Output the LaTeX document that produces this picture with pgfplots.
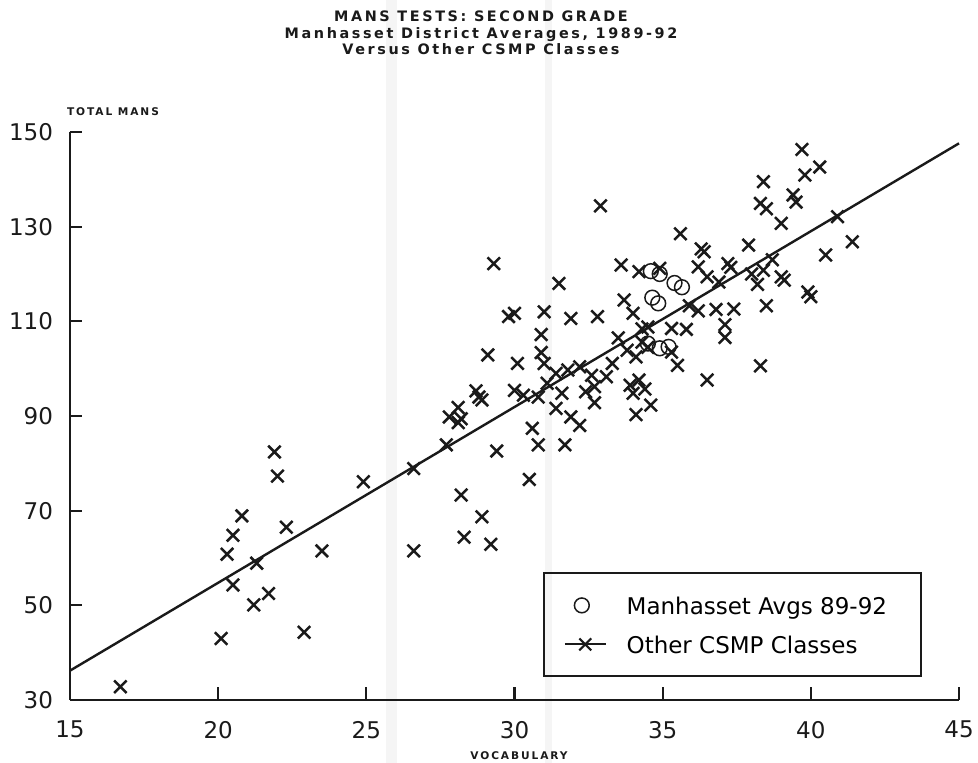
\documentclass[border=0pt]{standalone}
\usepackage{fontspec}
\setmainfont{DejaVu Sans}
\newfontfamily\titlefont[LetterSpace=18]{DejaVu Sans}
\usepackage{pgfplots}
\pgfplotsset{compat=1.18}
\usepackage{pgfplotstable}
\definecolor{ink}{HTML}{1A1A1A}
\definecolor{scanband}{HTML}{F5F5F5}
\pgfplotsset{widelegimg/.style={legend image code/.code={\draw[mark repeat=2,mark phase=2,##1] plot coordinates {(0pt,0pt) (10.25pt,0pt) (20.5pt,0pt)};}}}
\pgfplotstableread{
x y
16.7 32.8
20.1 43.0
20.3 60.8
20.5 64.8
20.8 68.9
20.5 54.3
21.2 50.1
21.3 58.9
21.7 52.5
21.9 82.4
22.0 77.3
22.3 66.5
22.9 44.3
23.5 61.5
24.9 76.1
26.6 78.9
26.6 61.5
27.7 83.9
27.8 89.8
28.1 88.6
28.2 89.4
28.1 91.8
28.2 73.3
28.3 64.4
28.9 68.7
29.2 62.9
29.4 82.6
28.7 95.3
28.8 94.0
28.9 93.4
29.1 102.9
29.3 122.2
29.8 111.0
30.0 111.7
30.0 95.4
30.3 94.4
30.1 101.1
30.6 87.4
30.5 76.6
30.8 83.9
30.8 94.0
30.9 103.4
30.9 107.2
31.0 101.1
31.0 112.0
31.1 96.9
31.4 91.6
31.5 118.0
31.4 99.0
31.6 94.8
31.7 83.9
31.8 99.7
31.9 110.6
31.9 89.8
32.2 88.0
32.2 100.4
32.4 95.1
32.6 98.6
32.7 96.2
32.7 92.8
32.8 111.0
32.9 134.4
33.1 98.3
33.3 101.1
33.5 106.5
33.8 103.9
33.6 121.9
33.7 114.5
33.9 96.5
34.0 111.7
34.0 94.8
34.1 90.3
34.2 120.5
34.2 97.6
34.3 108.4
34.1 102.5
34.3 105.6
34.5 104.5
34.5 108.8
34.4 95.7
34.6 92.3
34.9 121.2
35.3 108.5
35.3 103.5
35.5 100.7
35.6 128.5
35.8 108.3
35.9 113.3
36.2 112.2
36.2 121.5
36.3 125.3
36.4 124.7
36.5 119.4
36.5 97.6
36.8 112.5
36.9 118.3
37.1 109.3
37.1 106.6
37.2 122.2
37.3 121.4
37.4 112.6
37.9 126.1
38.0 120.0
38.2 117.8
38.3 100.6
38.3 134.9
38.4 139.5
38.4 120.8
38.5 133.8
38.5 113.3
38.7 123.0
39.0 130.7
39.0 119.4
39.1 118.7
39.4 136.7
39.5 135.2
39.7 146.3
39.8 140.9
39.9 116.2
40.0 115.2
40.3 142.6
40.5 124.0
40.9 132.1
41.4 126.8
}\others
\pgfplotstableread{
x y
34.6 120.6
34.9 120.0
35.4 118.1
35.65 117.2
34.65 115.0
34.85 113.8
34.5 105.3
34.9 104.3
35.2 104.6
}\manh
\begin{document}
\begin{tikzpicture}
\useasboundingbox (-35pt,-31.5pt) rectangle (454pt,350pt);
\fill[scanband] (158pt,-31.5pt) rectangle (163.5pt,350pt);
\fill[scanband] (237.5pt,-31.5pt) rectangle (241pt,350pt);
\begin{axis}[
 at={(0,0)}, anchor=south west,
 scale only axis, width=444.5pt, height=284pt,
 xmin=15, xmax=45, ymin=30, ymax=150,
 axis x line*=bottom, axis y line*=left,
 axis line style={-, line width=1.1pt, ink},
 xtick={15,20,...,45}, ytick={30,50,...,150},
 xtick pos=bottom, ytick pos=left,
 xtick align=inside, ytick align=inside, major tick length=6pt,
 every tick/.style={line width=1.1pt, ink},
 /pgf/number format/assume math mode=true,
 ticklabel style={font=\fontsize{11.5}{13}\selectfont, text=ink},
 xticklabel style={yshift=-7pt},
 yticklabel style={xshift=-5pt},
 legend style={at={(0.532,0.04)}, anchor=south west, draw=ink, line width=0.9pt, fill=none,
   inner xsep=10pt, inner ysep=9.5pt, row sep=6.5pt, column sep=9pt,
   font=\fontsize{11.5}{13}\selectfont,
   nodes={inner sep=1pt, text height=10pt, text depth=1pt}},
 legend cell align=left,
 clip=false,
]
\addplot[only marks, mark=x, mark size=4.4pt, mark options={ink, line width=1.25pt}, forget plot] table {\others};
\addplot[ink, line width=1.2pt, forget plot] coordinates {(15,36.2) (45,147.6)};
\addplot[only marks, mark=o, mark size=3.7pt, mark options={ink, line width=0.75pt}] table {\manh};
\addlegendentry{\makebox[136pt][l]{Manhasset Avgs 89-92}}
\addlegendimage{ink, line width=0.9pt, mark=x, mark size=4.2pt, mark options={line width=1pt}, widelegimg}
\addlegendentry{Other CSMP Classes}
\pgfplotsinvokeforeach{20,25,30,35,40,45}{\draw[ink, line width=1.1pt] (axis cs:#1,30) -- ++(0pt,6.5pt);}
\pgfplotsinvokeforeach{50,70,90,110,130,150}{\draw[ink, line width=1.1pt] (axis cs:15,#1) -- ++(5pt,0pt);}
\end{axis}
\node[font={\titlefont\bfseries\fontsize{7.2}{8.25}\selectfont}, align=center, text=ink] at (205.5pt,333.5pt)
  {MANS TESTS: SECOND GRADE\\Manhasset District Averages, 1989-92\\Versus Other CSMP Classes};
\node[font={\titlefont\bfseries\fontsize{5.3}{6}\selectfont}, text=ink] at (21.5pt,294pt) {TOTAL MANS};
\node[font={\titlefont\bfseries\fontsize{5.3}{6}\selectfont}, text=ink] at (224.5pt,-28pt) {VOCABULARY};
\end{tikzpicture}
\end{document}
